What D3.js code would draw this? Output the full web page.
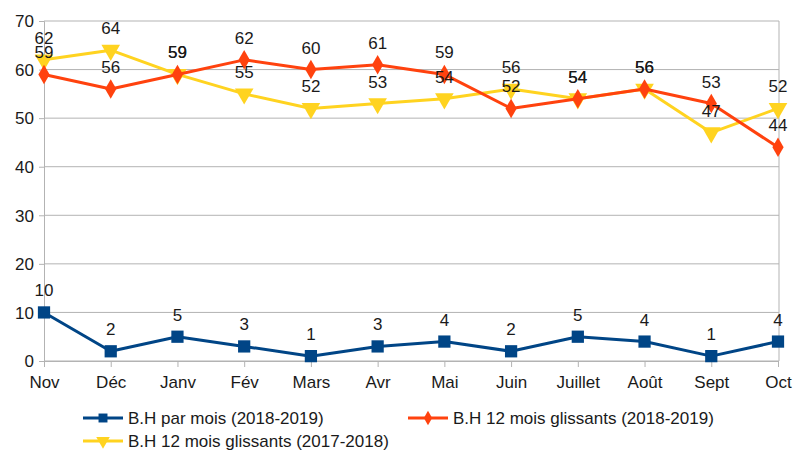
<!DOCTYPE html>
<html>
<head>
<meta charset="utf-8">
<script src="https://cdn.jsdelivr.net/npm/d3@7"></script>
<style>
  body { margin: 0; background: #fff; }
  svg text { font-family: "Liberation Sans", Arial, sans-serif; fill: #1a1a1a; }
</style>
</head>
<body>
<div id="chart"></div>
<script>
var months = ["Nov", "Déc", "Janv", "Fév", "Mars", "Avr", "Mai", "Juin", "Juillet", "Août", "Sept", "Oct"]
var parMois = [10, 2, 5, 3, 1, 3, 4, 2, 5, 4, 1, 4]
var glissants1819 = [59, 56, 59, 62, 60, 61, 59, 52, 54, 56, 53, 44]
var glissants1718 = [62, 64, 59, 55, 52, 53, 54, 56, 54, 56, 47, 52]
var yTicks = [0, 10, 20, 30, 40, 50, 60, 70]

var series = [
    { name: "B.H par mois (2018-2019)", values: parMois, color: "#004586", symbol: d3.symbolSquare },
    { name: "B.H 12 mois glissants (2017-2018)", values: glissants1718, color: "#ffd320", symbol: "triangle" },
    { name: "B.H 12 mois glissants (2018-2019)", values: glissants1819, color: "#ff420e", symbol: d3.symbolDiamond }
]

var width = 794, height = 455
var margin = { top: 21, right: 16, bottom: 94, left: 44 }
var w = width - margin.left - margin.right,
    h = height - margin.top - margin.bottom

var svg = d3.select("#chart").append("svg")
    .attr("width", width)
    .attr("height", height)

var g = svg.append("g")
    .attr("transform", "translate(" + margin.left + "," + margin.top + ")")

var x = d3.scalePoint().domain(months).range([0, 734])
var y = d3.scaleLinear().domain([0, 70]).range([h, 0])

// gridlines
g.append("g")
    .selectAll("line")
    .data(yTicks)
    .enter().append("line")
    .attr("x1", 0).attr("x2", 735)
    .attr("y1", function (d) { return y(d) }).attr("y2", function (d) { return y(d) })
    .style("stroke", "#b3b3b3")
    .style("stroke-width", 1)

g.append("line")
    .attr("x1", 735).attr("x2", 735).attr("y1", 0).attr("y2", h)
    .style("stroke", "#b3b3b3")

// y axis
var yAxis = g.append("g")
    .call(d3.axisLeft(y).tickValues(yTicks).tickSize(5).tickPadding(5))
yAxis.select(".domain").style("stroke", "#b3b3b3")
yAxis.selectAll(".tick line").style("stroke", "#b3b3b3")
yAxis.selectAll("text").style("font-size", "17px").attr("dy", "0.34em")

// x axis
var xAxis = g.append("g")
    .attr("transform", "translate(0," + h + ")")
    .call(d3.axisBottom(x).tickSize(6).tickPadding(9).tickSizeOuter(0))
xAxis.select(".domain").style("stroke", "#b3b3b3")
xAxis.selectAll(".tick line").style("stroke", "#b3b3b3")
xAxis.selectAll("text").style("font-size", "17px")

function symbolPath(s, size) {
    if (s === "triangle") {
        return d3.symbol().type(d3.symbolTriangle).size(size)()
    }
    return d3.symbol().type(s).size(size)()
}

var line = d3.line()
    .x(function (d, i) { return x(months[i]) })
    .y(function (d) { return y(d) })

series.forEach(function (s) {
    g.append("path")
        .datum(s.values)
        .attr("d", line)
        .style("fill", "none")
        .style("stroke", s.color)
        .style("stroke-width", 3)
        .style("stroke-linejoin", "round")

    g.selectAll(null)
        .data(s.values)
        .enter().append("path")
        .attr("d", symbolPath(s.symbol, s.symbol === d3.symbolDiamond ? 110 : 150))
        .attr("transform", function (d, i) {
            var rot = s.symbol === "triangle" ? " rotate(180)" : ""
            return "translate(" + x(months[i]) + "," + y(d) + ")" + rot
        })
        .style("fill", s.color)
})

// value labels
series.forEach(function (s) {
    g.selectAll(null)
        .data(s.values)
        .enter().append("text")
        .attr("x", function (d, i) { return x(months[i]) })
        .attr("y", function (d) { return y(d) - 16 })
        .attr("text-anchor", "middle")
        .style("font-size", "17px")
        .text(function (d) { return d })
})

// legend
var legendItems = [
    { s: series[0], lx: 83, ly: 418 },
    { s: series[2], lx: 408, ly: 418 },
    { s: series[1], lx: 83, ly: 441 }
]
legendItems.forEach(function (it) {
    var lg = svg.append("g")
    lg.append("line")
        .attr("x1", it.lx).attr("x2", it.lx + 40)
        .attr("y1", it.ly).attr("y2", it.ly)
        .style("stroke", it.s.color)
        .style("stroke-width", 3)
    lg.append("path")
        .attr("d", symbolPath(it.s.symbol, it.s.symbol === d3.symbolDiamond ? 60 : 80))
        .attr("transform", "translate(" + (it.lx + 20) + "," + it.ly + ")" + (it.s.symbol === "triangle" ? " rotate(180)" : ""))
        .style("fill", it.s.color)
    lg.append("text")
        .attr("x", it.lx + 45)
        .attr("y", it.ly)
        .attr("dy", "0.35em")
        .style("font-size", "17px")
        .text(it.s.name)
})
</script>
</body>
</html>
